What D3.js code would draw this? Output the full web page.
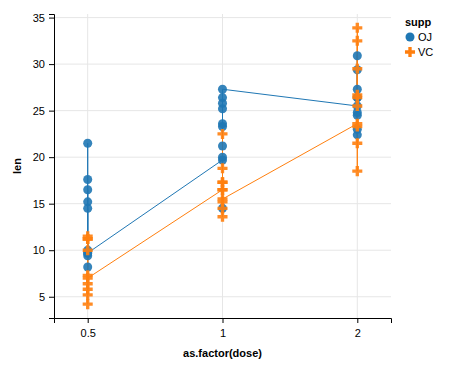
<!DOCTYPE html>
<html>
<head>
<meta charset="utf-8">
<script src="https://cdn.jsdelivr.net/npm/d3@7"></script>
<style>
  body { margin: 0; background: #fff; }
  svg { font-family: "Liberation Sans", Arial, sans-serif; }
  .grid line { stroke: #e6e6e6; stroke-width: 1; }
  .axis path, .axis line { stroke: #000; }
  .axis text { font-size: 11px; fill: #000; }
</style>
</head>
<body>
<svg width="464" height="377"></svg>
<script>
const doses = ['0.5', '1', '2'];
const groups = ['OJ', 'VC'];
const colors = ['#1f77b4', '#ff7f0e'];
const yTicks = [5, 10, 15, 20, 25, 30, 35];

// tooth length, 10 per dose, in data order
const ojLen = {
  '0.5': [15.2, 21.5, 17.6, 9.7, 14.5, 10.0, 8.2, 9.4, 16.5, 9.7],
  '1':   [19.7, 23.3, 23.6, 26.4, 20.0, 25.2, 25.8, 21.2, 14.5, 27.3],
  '2':   [25.5, 26.4, 22.4, 24.5, 24.8, 30.9, 26.4, 27.3, 29.4, 23.0]
};
const vcLen = {
  '0.5': [4.2, 11.5, 7.3, 5.8, 6.4, 10.0, 11.2, 11.2, 5.2, 7.0],
  '1':   [16.5, 16.5, 15.2, 17.3, 22.5, 17.3, 13.6, 14.5, 18.8, 15.5],
  '2':   [23.6, 18.5, 33.9, 25.5, 26.4, 32.5, 26.7, 21.5, 23.3, 29.5]
};

const series = [ojLen, vcLen].map((s, i) => ({
  supp: groups[i],
  points: doses.flatMap(d => s[d].map(v => ({ dose: d, len: v })))
}));

const svg = d3.select('svg');
const mLeft = 54, mRight = 391, mTop = 14, mBottom = 318;

const allLen = series.flatMap(s => s.points.map(p => p.len));
const [lo, hi] = d3.extent(allLen);
const pad = (hi - lo) * 0.05;

const x = d3.scalePoint().domain(doses).range([mLeft, mRight]).padding(0.25);
const y = d3.scaleLinear().domain([lo - pad, hi + pad]).range([mBottom, mTop]);
const color = d3.scaleOrdinal().domain(groups).range(colors);

// grid
const grid = svg.append('g').attr('class', 'grid');
grid.selectAll('.h').data(yTicks).enter().append('line')
  .attr('x1', mLeft).attr('x2', mRight)
  .attr('y1', d => y(d)).attr('y2', d => y(d));
grid.selectAll('.v').data(doses).enter().append('line')
  .attr('x1', d => x(d)).attr('x2', d => x(d))
  .attr('y1', mTop).attr('y2', mBottom);

// axes
svg.append('g').attr('class', 'axis')
  .attr('transform', `translate(0,${mBottom})`)
  .call(d3.axisBottom(x).tickSize(5).tickPadding(6));
svg.append('g').attr('class', 'axis')
  .attr('transform', `translate(${mLeft},0)`)
  .call(d3.axisLeft(y).tickValues(yTicks).tickSize(5).tickPadding(4));

svg.append('text')
  .attr('x', (mLeft + mRight) / 2).attr('y', 357)
  .attr('text-anchor', 'middle')
  .style('font-size', '11px').style('font-weight', 'bold')
  .text('as.factor(dose)');
svg.append('text')
  .attr('transform', `translate(21,${(mTop + mBottom) / 2})rotate(-90)`)
  .attr('text-anchor', 'middle')
  .style('font-size', '11px').style('font-weight', 'bold')
  .text('len');

// lines in data order
const line = d3.line().x(d => x(d.dose)).y(d => y(d.len));
svg.selectAll('.line').data(series).enter().append('path')
  .attr('fill', 'none')
  .attr('stroke', d => color(d.supp))
  .attr('stroke-width', 1)
  .attr('d', d => line(d.points));

const shape = d3.scaleOrdinal().domain(groups).range([d3.symbolCircle, d3.symbolCross]);
const size = d3.scaleOrdinal().domain(groups).range([64, 56]);

series.forEach(s => {
  svg.append('g').selectAll('path').data(s.points).enter().append('path')
    .attr('transform', d => `translate(${x(d.dose)},${y(d.len)})`)
    .attr('d', d3.symbol().type(shape(s.supp)).size(size(s.supp)))
    .attr('fill', color(s.supp))
    .attr('opacity', 0.9);
});

// legend
const legend = svg.append('g').attr('transform', 'translate(405,0)');
legend.append('text').attr('x', 0).attr('y', 26)
  .style('font-size', '11px').style('font-weight', 'bold').text('supp');
const item = legend.selectAll('.item').data(groups).enter().append('g')
  .attr('transform', (d, i) => `translate(0,${37 + i * 15})`);
item.append('path')
  .attr('transform', 'translate(5,0)')
  .attr('d', d => d3.symbol().type(shape(d)).size(size(d))())
  .attr('fill', d => color(d));
item.append('text').attr('x', 13).attr('y', 4)
  .style('font-size', '11px').text(d => d);
</script>
</body>
</html>
